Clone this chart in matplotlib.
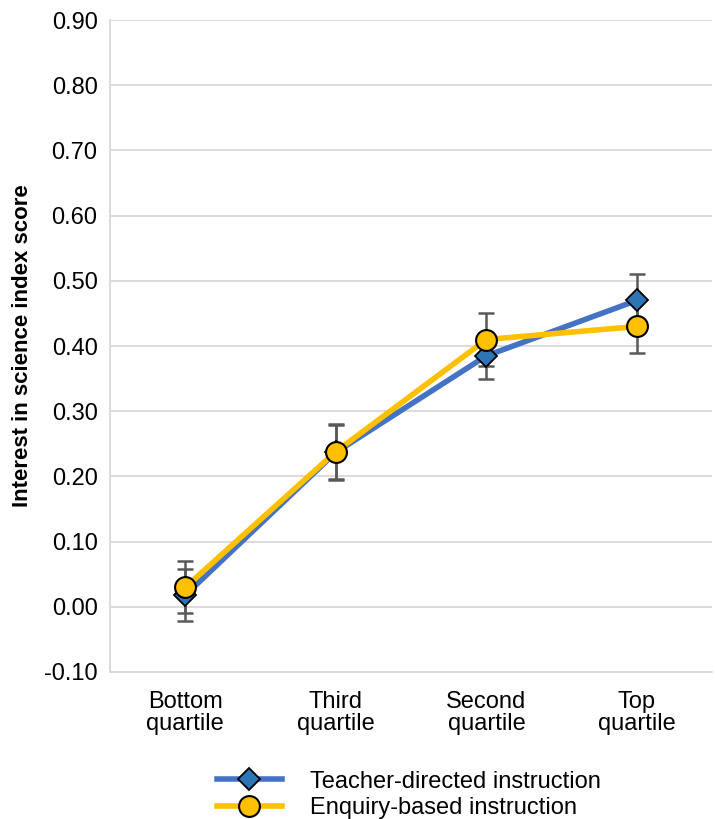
import matplotlib.pyplot as plt
import numpy as np

plt.rcParams['font.family'] = ['Liberation Sans', 'DejaVu Sans']

categories = ['Bottom\nquartile', 'Third\nquartile', 'Second\nquartile', 'Top\nquartile']
teacher = [0.018, 0.237, 0.385, 0.470]
teacher_err = [0.040, 0.042, 0.035, 0.040]
enquiry = [0.030, 0.238, 0.410, 0.430]
enquiry_err = [0.040, 0.042, 0.040, 0.040]

x = np.arange(len(categories))

fig = plt.figure(figsize=(7.15, 8.19), dpi=100)
ax = fig.add_axes([0.154, 0.1795, 0.842, 0.796])

ax.errorbar(x, teacher, yerr=teacher_err, fmt='none', ecolor='#595959',
            elinewidth=1.8, capsize=6, capthick=1.8, zorder=2)
ax.errorbar(x, enquiry, yerr=enquiry_err, fmt='none', ecolor='#595959',
            elinewidth=1.8, capsize=6, capthick=1.8, zorder=2)

ax.plot(x, teacher, color='#4472C4', lw=4, marker='D', markersize=11,
        markerfacecolor='#2E75B6', markeredgecolor='black', markeredgewidth=1.3,
        label='Teacher-directed instruction', zorder=3)
ax.plot(x, enquiry, color='#FFC000', lw=4, marker='o', markersize=15,
        markerfacecolor='#FFC000', markeredgecolor='black', markeredgewidth=1.5,
        label='Enquiry-based instruction', zorder=4)

ax.set_xlim(-0.5, 3.5)
ax.set_ylim(-0.10, 0.90)
yt = np.arange(-0.1, 0.91, 0.1)
ax.set_yticks(yt)
ax.set_yticklabels(['%.2f' % v for v in yt], fontsize=17)
ax.set_xticks(x)
ax.set_xticklabels(categories, fontsize=17, linespacing=1.0)
ax.tick_params(axis='x', length=0, pad=14)
ax.tick_params(axis='y', length=0, pad=9)

ax.grid(axis='y', color='#d9d9d9', lw=1.3)
ax.set_axisbelow(True)
for s in ['top', 'right']:
    ax.spines[s].set_visible(False)
for s in ['left', 'bottom']:
    ax.spines[s].set_color('#d9d9d9')
    ax.spines[s].set_linewidth(1.3)

ax.set_ylabel('Interest in science index score', fontsize=16, fontweight='bold', labelpad=8)

fig.legend(loc='upper left', bbox_to_anchor=(0.303, 0.059), frameon=False,
           fontsize=17, handlelength=2.75, handletextpad=1.2, labelspacing=0.2,
           borderpad=0, borderaxespad=0)

fig.savefig('out.png', dpi=100)
